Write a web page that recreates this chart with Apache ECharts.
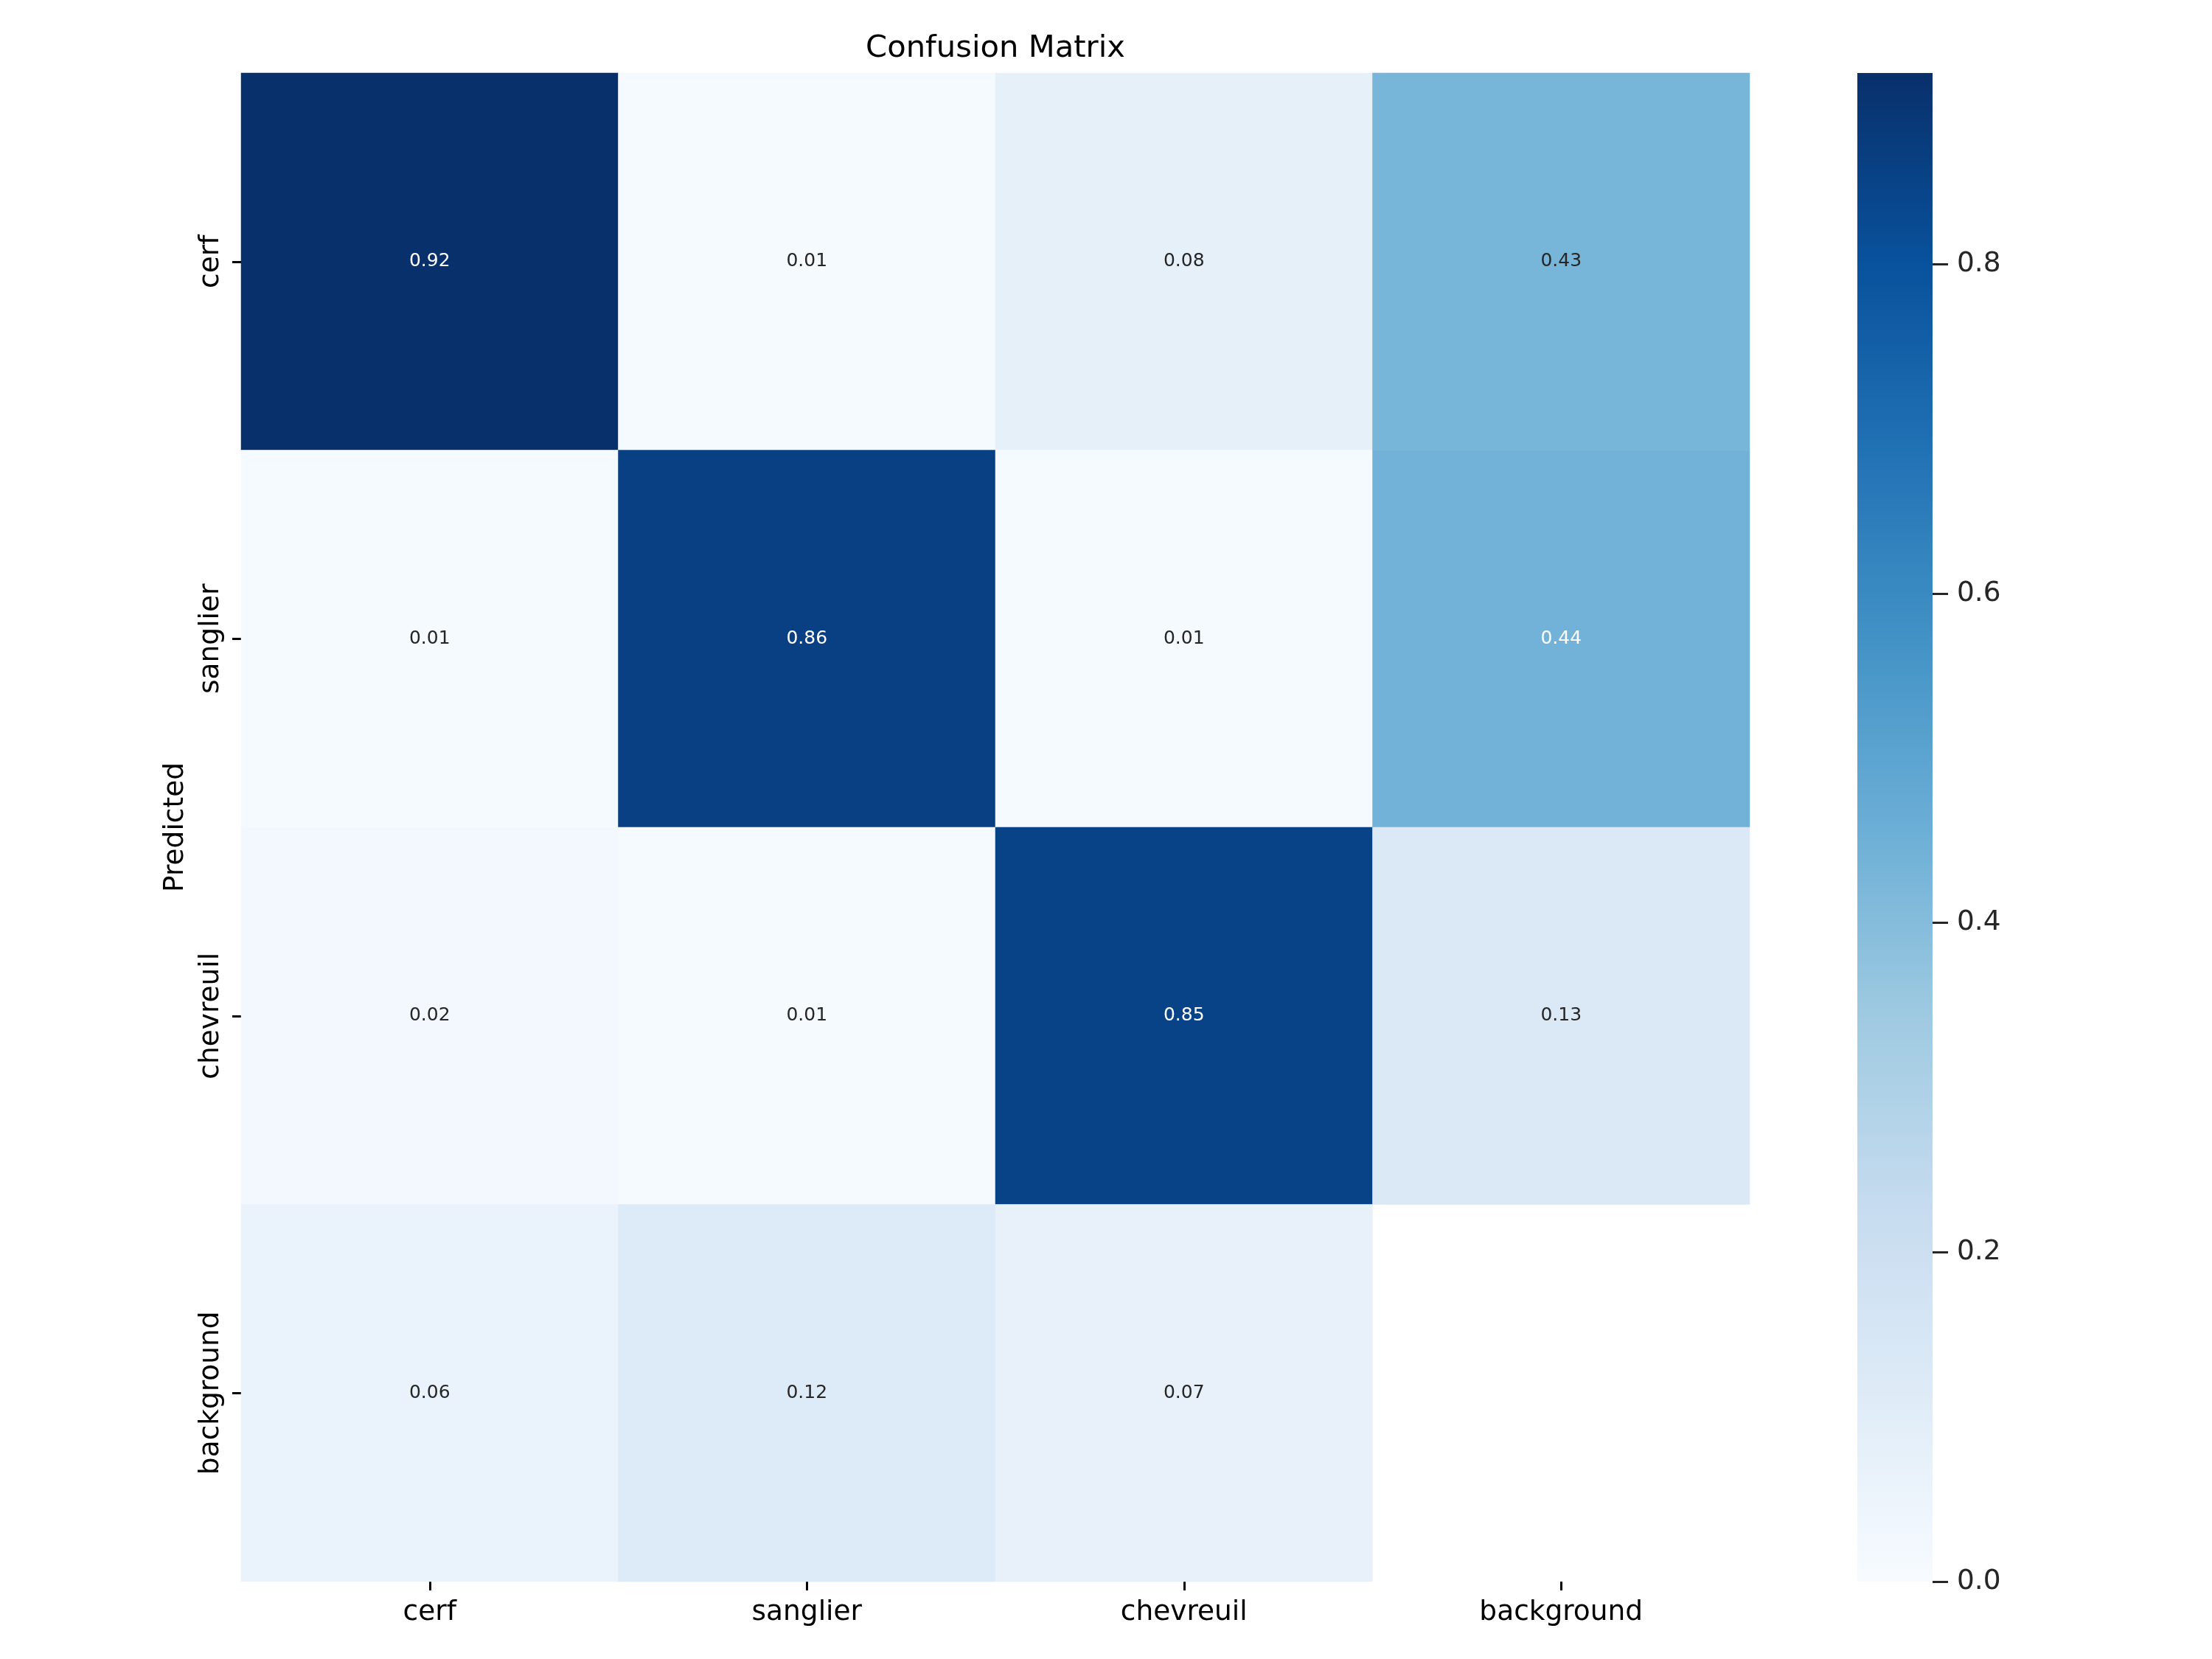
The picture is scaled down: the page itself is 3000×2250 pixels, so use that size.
<!DOCTYPE html>
<html><head><meta charset="utf-8">
<script src="https://cdn.jsdelivr.net/npm/echarts@6/dist/echarts.min.js"></script>
<style>html,body{margin:0;padding:0;background:#fff}#c{width:3000px;height:2250px}</style>
</head><body><div id="c"></div>
<script>
// Categories
const trueLabels = ['cerf', 'sanglier', 'chevreuil', 'background'];   // columns (x)
const predLabels = ['cerf', 'sanglier', 'chevreuil', 'background'];   // rows (y, "Predicted")
// Matrix rows (Predicted), values per true column
const rowCerf       = [0.916, 0.01, 0.08, 0.43];
const rowSanglier   = [0.01, 0.86, 0.01, 0.44];
const rowChevreuil  = [0.02, 0.01, 0.85, 0.13];
const rowBackground = [0.06, 0.12, 0.07, null];   // last cell empty
const colorbarTicks = [0, 0.2, 0.4, 0.6, 0.8];
const blues = ['#f7fbff', '#deebf7', '#c6dbef', '#9ecae1', '#6baed6', '#4292c6', '#2171b5', '#08519c', '#08306b'];

const rows = [rowCerf, rowSanglier, rowChevreuil, rowBackground];
const allVals = rows.flat().filter(v => v !== null);
const vmax = Math.max(...allVals);
const FONT = 'DejaVu Sans';

const heatData = [];
rows.forEach((r, i) => r.forEach((v, j) => {
  if (v === null) return;
  heatData.push({ value: [j, i, v], label: { color: v > 0.435 ? '#ffffff' : '#262626' } });
}));

const chart = echarts.init(document.getElementById('c'), null, { renderer: 'canvas' });
chart.setOption({
  animation: false,
  backgroundColor: '#ffffff',
  textStyle: { fontFamily: FONT },
  title: {
    text: 'Confusion Matrix', left: 1350, top: 45, padding: 0, textAlign: 'center',
    textStyle: { fontFamily: FONT, fontSize: 41.7, fontWeight: 'normal', color: '#000' }
  },
  grid: [
    { left: 327, top: 99, width: 2046, height: 2046, outerBoundsMode: 'none', containLabel: false },
    { left: 2519, top: 99, width: 102, height: 2046, outerBoundsMode: 'none', containLabel: false }
  ],
  xAxis: [
    {
      gridIndex: 0, type: 'category', data: trueLabels, position: 'bottom',
      axisLine: { show: false },
      axisTick: { show: true, alignWithLabel: true, length: 12, lineStyle: { color: '#000', width: 3 } },
      axisLabel: { margin: 23, fontFamily: FONT, fontSize: 37.5, color: '#000' },
      splitLine: { show: false }
    },
    {
      gridIndex: 1, type: 'category', data: [''], show: false
    }
  ],
  yAxis: [
    {
      gridIndex: 0, type: 'category', data: predLabels, inverse: true, position: 'left',
      name: 'Predicted', nameLocation: 'middle', nameRotate: 90, nameGap: 70,
      nameTextStyle: { fontFamily: FONT, fontSize: 37.5, color: '#000' },
      axisLine: { show: false },
      axisTick: { show: true, alignWithLabel: true, length: 12, lineStyle: { color: '#000', width: 3 } },
      axisLabel: { rotate: 90, margin: 22, fontFamily: FONT, fontSize: 37.5, color: '#000' },
      splitLine: { show: false }
    },
    {
      gridIndex: 1, type: 'value', min: 0, max: vmax, position: 'right',
      axisLine: { show: false },
      axisTick: { show: true, length: 21, customValues: colorbarTicks, lineStyle: { color: '#262626', width: 3 } },
      axisLabel: { margin: 33, customValues: colorbarTicks, formatter: v => Number(v).toFixed(1),
        fontFamily: FONT, fontSize: 37.5, color: '#262626' },
      splitLine: { show: false }
    }
  ],
  visualMap: {
    show: false, type: 'continuous', seriesIndex: 0, dimension: 2,
    min: 0, max: vmax, inRange: { color: blues }
  },
  series: [
    {
      type: 'heatmap', xAxisIndex: 0, yAxisIndex: 0, data: heatData,
      label: { show: true, fontFamily: FONT, fontSize: 25, formatter: p => p.value[2].toFixed(2) },
      emphasis: { disabled: true }, itemStyle: { borderWidth: 0 }
    },
    {
      type: 'bar', xAxisIndex: 1, yAxisIndex: 1, data: [vmax], barWidth: '100%', silent: true,
      itemStyle: {
        color: {
          type: 'linear', x: 0, y: 1, x2: 0, y2: 0,
          colorStops: blues.map((c, k) => ({ offset: k / (blues.length - 1), color: c }))
        }
      }
    }
  ]
});
</script></body></html>
